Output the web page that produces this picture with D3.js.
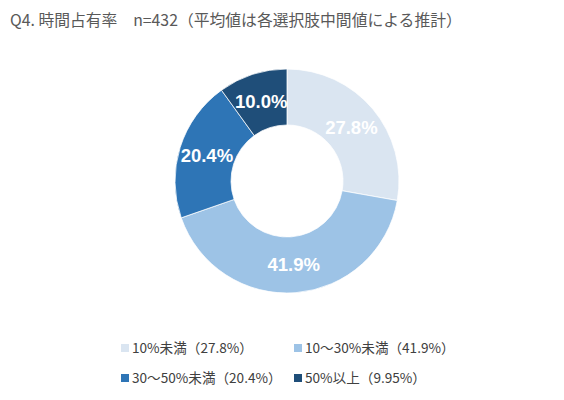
<!DOCTYPE html>
<html><head><meta charset="utf-8">
<script src="https://cdn.jsdelivr.net/npm/d3@7"></script>
<style>
html,body{margin:0;padding:0;background:#fff;}
svg{display:block;}
</style>
</head><body>
<svg id="chart" width="564" height="400"></svg>
<script>
const title = "Q4. 時間占有率　n=432（平均値は各選択肢中間値による推計）";
const categories = ["10%未満", "10〜30%未満", "30〜50%未満", "50%以上"];
const values = [27.8, 41.9, 20.4, 9.95];
const sliceLabels = ["27.8%", "41.9%", "20.4%", "10.0%"];
const legendLabels = ["10%未満（27.8%）", "10〜30%未満（41.9%）", "30〜50%未満（20.4%）", "50%以上（9.95%）"];
const colors = ["#DAE5F1", "#9DC3E6", "#2E75B6", "#1F4E79"];

const svg = d3.select("#chart");
const cx = 287, cy = 181, outerR = 112, innerR = 56;

svg.append("text").attr("x", 10).attr("y", 26)
  .attr("font-family", "'Noto Sans CJK JP', 'Noto Sans', sans-serif")
  .attr("font-size", 15.8).attr("fill", "#595959").text(title);

const pie = d3.pie().value(d => d).sort(null);
const arc = d3.arc().innerRadius(innerR).outerRadius(outerR);
const arcs = pie(values);

const g = svg.append("g").attr("transform", `translate(${cx},${cy})`);
g.selectAll("path").data(arcs).join("path")
  .attr("d", arc).attr("fill", (d, i) => colors[i])
  .attr("stroke", "#fff").attr("stroke-width", 0.75);

g.selectAll("text").data(arcs).join("text")
  .attr("transform", d => `translate(${arc.centroid(d)})`)
  .attr("text-anchor", "middle").attr("dy", "0.36em")
  .attr("font-family", "'Liberation Sans', Arial, sans-serif")
  .attr("font-weight", "bold").attr("font-size", 18.5)
  .attr("fill", "#fff")
  .text((d, i) => sliceLabels[i]);

const legendPos = [[121, 348], [294, 348], [121, 378], [294, 378]];
const lg = svg.append("g");
legendLabels.forEach((t, i) => {
  const [x, y] = legendPos[i];
  lg.append("rect").attr("x", x).attr("y", y - 4).attr("width", 8).attr("height", 8).attr("fill", colors[i]);
  lg.append("text").attr("x", x + 11).attr("y", y).attr("dy", "0.36em")
    .attr("font-family", "'Noto Sans CJK JP', 'Noto Sans', sans-serif")
    .attr("font-size", 13.6).attr("fill", "#404040").text(t);
});
</script>
</body></html>
